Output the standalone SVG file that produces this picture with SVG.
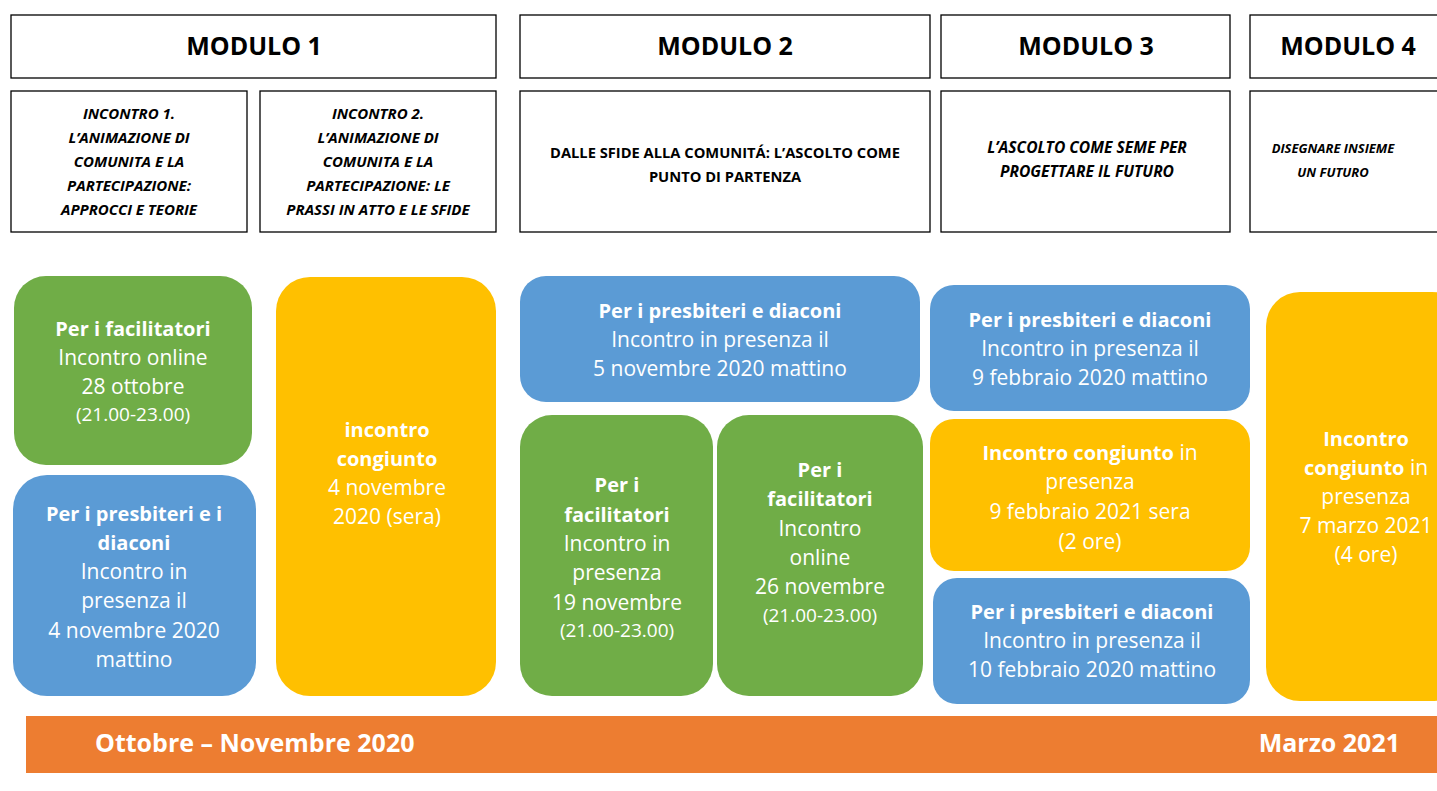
<svg xmlns="http://www.w3.org/2000/svg" width="1437" height="791" viewBox="0 0 1437 791">
<style>
.hdr{fill:#fff;stroke:#000;stroke-width:1.3}
.ht{font-family:"Open Sans","Liberation Sans",sans-serif;font-weight:bold;font-size:25px;fill:#000;text-anchor:middle}
.st{font-family:"Open Sans","Liberation Sans",sans-serif;font-weight:bold;font-style:italic;font-size:15px;fill:#000;text-anchor:middle}
.st2{font-family:"Open Sans","Liberation Sans",sans-serif;font-weight:bold;font-size:14.7px;fill:#000;text-anchor:middle}
.st3{font-size:15.6px}
.st4{font-size:13px}
.g{fill:#70AD47}.b{fill:#5B9BD5}.y{fill:#FFC000}.o{fill:#ED7D31}
.t{font-family:"Open Sans","Liberation Sans",sans-serif;font-size:21px;fill:#fff;text-anchor:middle}
.tb{font-weight:bold;font-size:20px}
.sm{font-size:19px}
.bar{font-family:"Open Sans","Liberation Sans",sans-serif;font-weight:bold;font-size:25px;fill:#fff}
</style>
<rect width="1437" height="791" fill="#fff"/>
<g id="connectors"/>
<g id="modulo1">
<rect class="hdr" x="11" y="15" width="485" height="63"/>
<text class="ht" x="254" y="55">MODULO 1</text>
</g>
<g id="modulo2">
<rect class="hdr" x="520" y="15" width="410" height="63"/>
<text class="ht" x="725" y="55">MODULO 2</text>
</g>
<g id="modulo3">
<rect class="hdr" x="941" y="15" width="289" height="63"/>
<text class="ht" x="1086" y="55">MODULO 3</text>
</g>
<g id="modulo4">
<rect class="hdr" x="1250" y="15" width="200" height="63"/>
<text class="ht" x="1348" y="55">MODULO 4</text>
</g>
<g id="incontro1">
<rect class="hdr" x="11" y="91" width="236" height="141"/>
<text class="st" x="129" y="119">INCONTRO 1.</text>
<text class="st" x="129" y="143">L’ANIMAZIONE DI</text>
<text class="st" x="129" y="167">COMUNITA E LA</text>
<text class="st" x="129" y="191">PARTECIPAZIONE:</text>
<text class="st" x="129" y="215">APPROCCI E TEORIE</text>
</g>
<g id="incontro2">
<rect class="hdr" x="260" y="91" width="236" height="141"/>
<text class="st" x="378" y="119">INCONTRO 2.</text>
<text class="st" x="378" y="143">L’ANIMAZIONE DI</text>
<text class="st" x="378" y="167">COMUNITA E LA</text>
<text class="st" x="378" y="191">PARTECIPAZIONE: LE</text>
<text class="st" x="378" y="215">PRASSI IN ATTO E LE SFIDE</text>
</g>
<g id="sub2">
<rect class="hdr" x="520" y="91" width="410" height="141"/>
<text class="st2" x="725" y="158">DALLE SFIDE ALLA COMUNITÁ: L’ASCOLTO COME</text>
<text class="st2" x="725" y="182">PUNTO DI PARTENZA</text>
</g>
<g id="sub3">
<rect class="hdr" x="941" y="91" width="289" height="141"/>
<text class="st st3" x="1087" y="153">L’ASCOLTO COME SEME PER</text>
<text class="st st3" x="1087" y="177">PROGETTARE IL FUTURO</text>
</g>
<g id="sub4">
<rect class="hdr" x="1250" y="91" width="200" height="141"/>
<text class="st st4" x="1333" y="153">DISEGNARE INSIEME</text>
<text class="st st4" x="1333" y="177">UN FUTURO</text>
</g>
<g id="fac1">
<rect class="g" x="14" y="276" width="238" height="189" rx="32"/>
<text class="t tb" x="133" y="336">Per i facilitatori</text>
<text class="t" x="133" y="365">Incontro online</text>
<text class="t" x="133" y="394">28 ottobre</text>
<text class="t sm" x="133" y="421">(21.00-23.00)</text>
</g>
<g id="pres1">
<rect class="b" x="13" y="475" width="243" height="221" rx="34"/>
<text class="t tb" x="134" y="521">Per i presbiteri e i</text>
<text class="t tb" x="134" y="550">diaconi</text>
<text class="t" x="134" y="579">Incontro in</text>
<text class="t" x="134" y="608">presenza il</text>
<text class="t" x="134" y="638">4 novembre 2020</text>
<text class="t" x="134" y="667">mattino</text>
</g>
<g id="cong1">
<rect class="y" x="276" y="277" width="220" height="419" rx="34"/>
<text class="t tb" x="387" y="437">incontro</text>
<text class="t tb" x="387" y="466">congiunto</text>
<text class="t" x="387" y="495">4 novembre</text>
<text class="t" x="387" y="524">2020 (sera)</text>
</g>
<g id="pres2">
<rect class="b" x="520" y="276" width="400" height="126" rx="26"/>
<text class="t tb" x="720" y="318">Per i presbiteri e diaconi</text>
<text class="t" x="720" y="347">Incontro in presenza il</text>
<text class="t" x="720" y="376">5 novembre 2020 mattino</text>
</g>
<g id="fac2">
<rect class="g" x="520" y="415" width="193" height="281" rx="32"/>
<text class="t tb" x="617" y="492">Per i</text>
<text class="t tb" x="617" y="522">facilitatori</text>
<text class="t" x="617" y="551">Incontro in</text>
<text class="t" x="617" y="580">presenza</text>
<text class="t" x="617" y="610">19 novembre</text>
<text class="t sm" x="617" y="637">(21.00-23.00)</text>
</g>
<g id="fac3">
<rect class="g" x="717" y="415" width="206" height="281" rx="32"/>
<text class="t tb" x="820" y="477">Per i</text>
<text class="t tb" x="820" y="506">facilitatori</text>
<text class="t" x="820" y="536">Incontro</text>
<text class="t" x="820" y="565">online</text>
<text class="t" x="820" y="594">26 novembre</text>
<text class="t sm" x="820" y="622">(21.00-23.00)</text>
</g>
<g id="pres3">
<rect class="b" x="930" y="285" width="320" height="126" rx="24"/>
<text class="t tb" x="1090" y="327">Per i presbiteri e diaconi</text>
<text class="t" x="1090" y="356">Incontro in presenza il</text>
<text class="t" x="1090" y="385">9 febbraio 2020 mattino</text>
</g>
<g id="cong2">
<rect class="y" x="930" y="419" width="320" height="152" rx="24"/>
<text class="t" x="1090" y="460"><tspan class="tb">Incontro congiunto</tspan> in</text>
<text class="t" x="1090" y="489">presenza</text>
<text class="t" x="1090" y="519">9 febbraio 2021 sera</text>
<text class="t" x="1090" y="549">(2 ore)</text>
</g>
<g id="pres4">
<rect class="b" x="933" y="578" width="317" height="126" rx="24"/>
<text class="t tb" x="1092" y="619">Per i presbiteri e diaconi</text>
<text class="t" x="1092" y="648">Incontro in presenza il</text>
<text class="t" x="1092" y="677">10 febbraio 2020 mattino</text>
</g>
<g id="cong3">
<rect class="y" x="1266" y="292" width="200" height="409" rx="34"/>
<text class="t tb" x="1366" y="446">Incontro</text>
<text class="t" x="1366" y="475"><tspan class="tb">congiunto</tspan> in</text>
<text class="t" x="1366" y="504">presenza</text>
<text class="t" x="1366" y="533">7 marzo 2021</text>
<text class="t" x="1366" y="562">(4 ore)</text>
</g>
<g id="timeline">
<rect class="o" x="26" y="716" width="1420" height="57"/>
<text class="bar" x="95" y="752">Ottobre – Novembre 2020</text>
<text class="bar" x="1400" y="752" text-anchor="end">Marzo 2021</text>
</g>
</svg>
